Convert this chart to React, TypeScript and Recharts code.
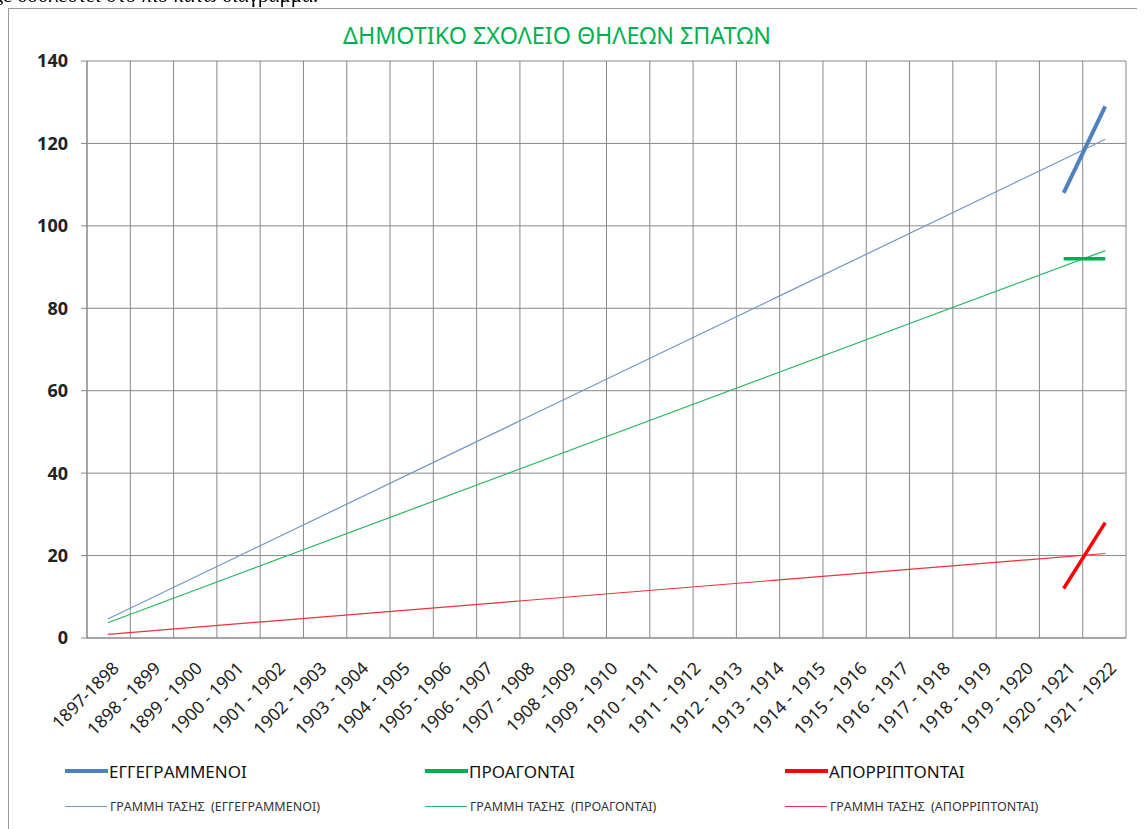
import React from "react";
import { LineChart, Line, XAxis, YAxis, CartesianGrid, Legend } from "recharts";

const years = [
  "1897-1898", "1898 - 1899", "1899 - 1900", "1900 - 1901", "1901 - 1902",
  "1902 - 1903", "1903 - 1904", "1904 - 1905", "1905 - 1906", "1906 - 1907",
  "1907 - 1908", "1908 -1909", "1909 - 1910", "1910 - 1911", "1911 - 1912",
  "1912 - 1913", "1913 - 1914", "1914 - 1915", "1915 - 1916", "1916 - 1917",
  "1917 - 1918", "1918 - 1919", "1919 - 1920", "1920 - 1921", "1921 - 1922",
];

const N = null;
const enrolled = [N, N, N, N, N, N, N, N, N, N, N, N, N, N, N, N, N, N, N, N, N, N, N, 108, 129];
const promoted = [N, N, N, N, N, N, N, N, N, N, N, N, N, N, N, N, N, N, N, N, N, N, N, 92, 92];
const failed = [N, N, N, N, N, N, N, N, N, N, N, N, N, N, N, N, N, N, N, N, N, N, N, 12, 28];

// trend lines: only the end points are read, the line joins them
const trendEnrolled = [4.6, N, N, N, N, N, N, N, N, N, N, N, N, N, N, N, N, N, N, N, N, N, N, N, 121];
const trendPromoted = [3.7, N, N, N, N, N, N, N, N, N, N, N, N, N, N, N, N, N, N, N, N, N, N, N, 94];
const trendFailed = [0.9, N, N, N, N, N, N, N, N, N, N, N, N, N, N, N, N, N, N, N, N, N, N, N, 20.5];

const yTicks = [0, 20, 40, 60, 80, 100, 120, 140];
const gridTicks = Array.from({ length: years.length + 1 }, (_, i) => i);

const seriesNames = ["ΕΓΓΕΓΡΑΜΜΕΝΟΙ", "ΠΡΟΑΓΟΝΤΑΙ", "ΑΠΟΡΡΙΠΤΟΝΤΑΙ"];
const trendNames = [
  "ΓΡΑΜΜΗ ΤΑΣΗΣ  (ΕΓΓΕΓΡΑΜΜΕΝΟΙ)",
  "ΓΡΑΜΜΗ ΤΑΣΗΣ  (ΠΡΟΑΓΟΝΤΑΙ)",
  "ΓΡΑΜΜΗ ΤΑΣΗΣ  (ΑΠΟΡΡΙΠΤΟΝΤΑΙ)",
];
const colors = ["#4f81bd", "#00b050", "#ff0000"];
const trendColors = ["#7096c8", "#2cb865", "#f0303a"];

const data = years.map((year, i) => ({
  year,
  enrolled: enrolled[i],
  promoted: promoted[i],
  failed: failed[i],
  tEnrolled: trendEnrolled[i],
  tPromoted: trendPromoted[i],
  tFailed: trendFailed[i],
}));

const FONT = "'Noto Sans', 'DejaVu Sans', sans-serif";

const YearTick = (props: any) => {
  const { x, y, payload } = props;
  return (
    <g transform={`translate(${x + 8},${y + 27})`}>
      <text
        x={0}
        y={0}
        dy="0.35em"
        textAnchor="end"
        transform="rotate(-45)"
        fontSize={17.5}
        fontFamily={FONT}
        fill="#222"
      >
        {payload.value}
      </text>
    </g>
  );
};

const NoLabel = () => <g />;

const LegendBox = () => (
  <div style={{ paddingLeft: 56, fontFamily: FONT }}>
    <div style={{ display: "flex", height: 26, alignItems: "center" }}>
      {seriesNames.map((name, i) => (
        <div key={name} style={{ width: 373, display: "flex", alignItems: "center" }}>
          <span style={{ display: "inline-block", width: 43, height: 4, background: colors[i] }} />
          <span style={{ fontSize: 17, color: "#111", marginLeft: 1 }}>{name}</span>
        </div>
      ))}
    </div>
    <div style={{ display: "flex", height: 44, alignItems: "center" }}>
      {trendNames.map((name, i) => (
        <div key={name} style={{ width: 373, display: "flex", alignItems: "center" }}>
          <span style={{ display: "inline-block", width: 42, height: 1, background: trendColors[i] }} />
          <span style={{ fontSize: 12.5, color: "#333", marginLeft: 3, whiteSpace: "pre" }}>{name}</span>
        </div>
      ))}
    </div>
  </div>
);

export default function App() {
  return (
    <div style={{ position: "relative" }}>
      <style>{`body{overflow:hidden}`}</style>
      <div
        style={{
          position: "fixed",
          top: -17,
          left: -6,
          fontFamily: "'Liberation Serif', serif",
          fontSize: 21,
          whiteSpace: "nowrap",
        }}
      >
        ξε δουλευτεί στο πιο κάτω διάγραμμα.
      </div>
      <div
        style={{
          position: "relative",
          width: 1136,
          height: 820,
          borderLeft: "1px solid #999",
          borderTop: "1px solid #999",
          background: "#fff",
        }}
      >
        <div
          style={{
            position: "absolute",
            left: 0,
            width: 1096,
            top: 10,
            textAlign: "center",
            fontFamily: FONT,
            fontSize: 23.3,
            color: "#00b050",
          }}
        >
          ΔΗΜΟΤΙΚΟ ΣΧΟΛΕΙΟ ΘΗΛΕΩΝ ΣΠΑΤΩΝ
        </div>
        <LineChart
          width={1136}
          height={820}
          data={data}
          margin={{ top: 52, right: 19, left: 18, bottom: 1 }}
        >
          <XAxis
            xAxisId="grid"
            type="number"
            domain={[0, years.length]}
            ticks={gridTicks}
            height={0}
            axisLine={false}
            tick={<NoLabel />}
            tickLine={{ stroke: "#888" }}
            tickSize={6}
          />
          <XAxis
            dataKey="year"
            scale="band"
            interval={0}
            height={120}
            tick={<YearTick />}
            tickLine={false}
            tickSize={0}
            tickMargin={0}
            axisLine={{ stroke: "#888" }}
          />
          <YAxis
            domain={[0, 140]}
            ticks={yTicks}
            width={60}
            tickSize={6}
            tickMargin={13}
            axisLine={{ stroke: "#888" }}
            tickLine={{ stroke: "#888" }}
            tick={{ fontSize: 18, fontWeight: 700, fill: "#222", fontFamily: FONT }}
          />
          <CartesianGrid xAxisId="grid" stroke="#888" strokeWidth={1} />
          <Legend
            verticalAlign="bottom"
            content={<LegendBox />}
            wrapperStyle={{ left: 0, width: 1136 }}
          />
          <Line dataKey="tEnrolled" name={trendNames[0]} stroke={trendColors[0]} strokeWidth={1.2} dot={false} activeDot={false} connectNulls isAnimationActive={false} />
          <Line dataKey="tPromoted" name={trendNames[1]} stroke={trendColors[1]} strokeWidth={1.2} dot={false} activeDot={false} connectNulls isAnimationActive={false} />
          <Line dataKey="tFailed" name={trendNames[2]} stroke={trendColors[2]} strokeWidth={1.2} dot={false} activeDot={false} connectNulls isAnimationActive={false} />
          <Line dataKey="enrolled" name={seriesNames[0]} stroke={colors[0]} strokeWidth={4} dot={false} activeDot={false} isAnimationActive={false} />
          <Line dataKey="promoted" name={seriesNames[1]} stroke={colors[1]} strokeWidth={3.5} dot={false} activeDot={false} isAnimationActive={false} />
          <Line dataKey="failed" name={seriesNames[2]} stroke={colors[2]} strokeWidth={3.5} dot={false} activeDot={false} isAnimationActive={false} />
        </LineChart>
      </div>
    </div>
  );
}
